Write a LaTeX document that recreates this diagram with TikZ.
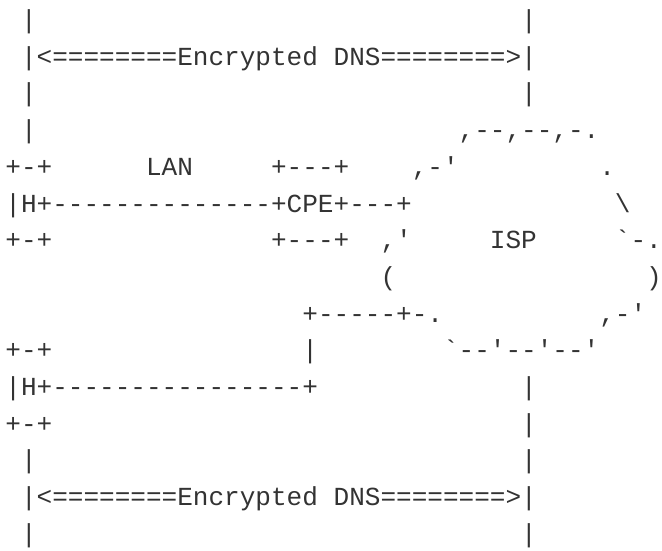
\documentclass[tikz,border=0pt]{standalone}
\usepackage{fontspec}
\setmonofont{Liberation Mono}
\usepackage{tikz}
\definecolor{ink}{gray}{0.2}
\tikzset{ch/.style={anchor=base west, inner sep=0pt, text=ink, font=\ttfamily\fontsize{26.05}{26}\selectfont}}

\begin{document}
\begin{tikzpicture}[x=15.63pt, y=-36.7pt]
      \useasboundingbox (-5.2pt,28.5pt) rectangle (656.8pt,-521.5pt);
      % upper host, encrypted DNS to the ISP
      \node [ch] (topL) at (1,0) {|};
      \node [ch] (topR) at (33,0) {|};
      \node [ch] (encTop) at (1,1) {|<========Encrypted DNS========>|};
      \node [ch] (upL) at (1,2) {|};
      \node [ch] (upR) at (33,2) {|};
      \node [ch] (downL) at (1,3) {|};
      \node [ch] (cloudTop) at (29,3) {,--,--,-.};
      \node [ch] (hAtop) at (0,4) {+-+};
      \node [ch] (lan) at (9,4) {LAN};
      \node [ch] (cpeTop) at (17,4) {+---+};
      \node [ch] (cloudNW) at (26,4) {,-'};
      \node [ch] (cloudNE) at (38,4) {.};
      \node [ch] (hA) at (0,5) {|H+--------------+CPE+---+};
      \node [ch] (cloudE) at (39,5) {\textbackslash};
      \node [ch] (hAbot) at (0,6) {+-+};
      \node [ch] (cpeBot) at (17,6) {+---+};
      \node [ch] (cloudW) at (24,6) {,'};
      \node [ch] (isp) at (31,6) {ISP};
      \node [ch] (cloudEE) at (39,6) {`-.};
      \node [ch] (cloudL) at (24,7) {(};
      \node [ch] (cloudR) at (41,7) {)};
      % lower host, straight to the ISP
      \node [ch] (linkTop) at (19,8) {+-----+-.};
      \node [ch] (cloudSE) at (38,8) {,-'};
      \node [ch] (hBtop) at (0,9) {+-+};
      \node [ch] (linkMid) at (19,9) {|};
      \node [ch] (cloudBot) at (28,9) {`--'--'--'};
      \node [ch] (hB) at (0,10) {|H+----------------+};
      \node [ch] (ispDownA) at (33,10) {|};
      \node [ch] (hBbot) at (0,11) {+-+};
      \node [ch] (ispDownB) at (33,11) {|};
      \node [ch] (lowL) at (1,12) {|};
      \node [ch] (lowR) at (33,12) {|};
      \node [ch] (encBot) at (1,13) {|<========Encrypted DNS========>|};
      \node [ch] (botL) at (1,14) {|};
      \node [ch] (botR) at (33,14) {|};
\end{tikzpicture}
\end{document}
